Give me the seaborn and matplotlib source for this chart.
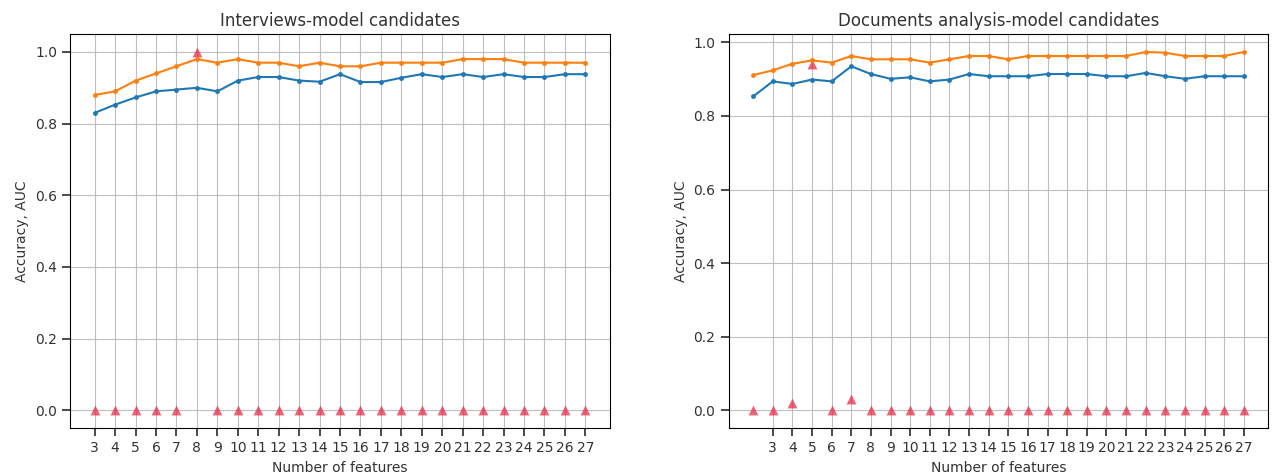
import numpy as np
import pandas as pd
import matplotlib
matplotlib.use("Agg")
import matplotlib.pyplot as plt
import seaborn as sns

# ---- Data ----
left_x = list(range(3, 28))
left_auc = [0.88, 0.89, 0.92, 0.94, 0.96, 0.98, 0.97, 0.98, 0.97, 0.97, 0.96, 0.97, 0.96,
            0.96, 0.97, 0.97, 0.97, 0.97, 0.98, 0.98, 0.98, 0.97, 0.97, 0.97, 0.97]
left_acc = [0.83, 0.853, 0.873, 0.89, 0.895, 0.90, 0.89, 0.92, 0.93, 0.93, 0.92, 0.917, 0.938,
            0.916, 0.916, 0.928, 0.938, 0.93, 0.938, 0.93, 0.938, 0.93, 0.93, 0.938, 0.938]
left_mark = [0, 0, 0, 0, 0, 1.0, 0, 0, 0, 0, 0, 0, 0, 0, 0, 0, 0, 0, 0, 0, 0, 0, 0, 0, 0]

right_x = list(range(2, 28))
right_auc = [0.911, 0.924, 0.942, 0.951, 0.945, 0.963, 0.954, 0.954, 0.954, 0.945, 0.954, 0.963,
             0.963, 0.954, 0.963, 0.963, 0.963, 0.963, 0.963, 0.963, 0.974, 0.972, 0.963, 0.963,
             0.963, 0.974]
right_acc = [0.853, 0.894, 0.887, 0.899, 0.894, 0.935, 0.914, 0.901, 0.905, 0.894, 0.899, 0.914,
             0.908, 0.908, 0.908, 0.914, 0.914, 0.914, 0.908, 0.908, 0.917, 0.908, 0.901, 0.908,
             0.908, 0.908]
right_mark = [0, 0, 0.02, 0.94, 0, 0.03, 0, 0, 0, 0, 0, 0, 0, 0, 0, 0, 0, 0, 0, 0, 0, 0, 0, 0, 0, 0]

left_ticks = list(range(3, 28))
right_ticks = list(range(3, 28))
titles = ["Interviews-model candidates", "Documents analysis-model candidates"]

sns.set_theme(style="ticks")
plt.rcParams['font.family'] = ['DejaVu Sans']
plt.rcParams.update({
    "axes.edgecolor": "black",
    "axes.linewidth": 0.8,
    "xtick.color": "#333333",
    "ytick.color": "#333333",
    "text.color": "#333333",
    "axes.labelcolor": "#333333",
})

fig, axes = plt.subplots(1, 2, figsize=(12.76, 4.73), dpi=100)
fig.subplots_adjust(left=0.055, right=0.994, top=0.928, bottom=0.095, wspace=0.22)

panels = [
    (left_x, left_auc, left_acc, left_mark, left_ticks),
    (right_x, right_auc, right_acc, right_mark, right_ticks),
]

for ax, (xs, auc, acc, mark, ticks), title in zip(axes, panels, titles):
    df = pd.DataFrame({"x": xs, "auc": auc, "acc": acc, "mark": mark})
    ax.grid(True, color="#b8b8b8", linewidth=0.8, alpha=0.9)
    ax.set_axisbelow(True)
    sns.lineplot(data=df, x="x", y="acc", ax=ax, color="tab:blue", marker="o",
                 markersize=3.5, markeredgewidth=0, linewidth=1.5)
    sns.lineplot(data=df, x="x", y="auc", ax=ax, color="tab:orange", marker="o",
                 markersize=3.5, markeredgewidth=0, linewidth=1.5)
    sns.scatterplot(data=df, x="x", y="mark", ax=ax, color="#e8203a", marker="^",
                    s=50, alpha=0.7, linewidth=0)
    ax.set_xticks(ticks)
    ax.set_xticklabels([str(t) for t in ticks], fontsize=10)
    ax.set_yticks([0.0, 0.2, 0.4, 0.6, 0.8, 1.0])
    ax.set_yticklabels(["0.0", "0.2", "0.4", "0.6", "0.8", "1.0"], fontsize=10)
    ax.set_xlabel("Number of features", fontsize=10)
    ax.set_ylabel("Accuracy, AUC", fontsize=10)
    ax.set_title(title, fontsize=12)
    ax.margins(x=0.05, y=0.05)

fig.savefig("out.png", dpi=100)
